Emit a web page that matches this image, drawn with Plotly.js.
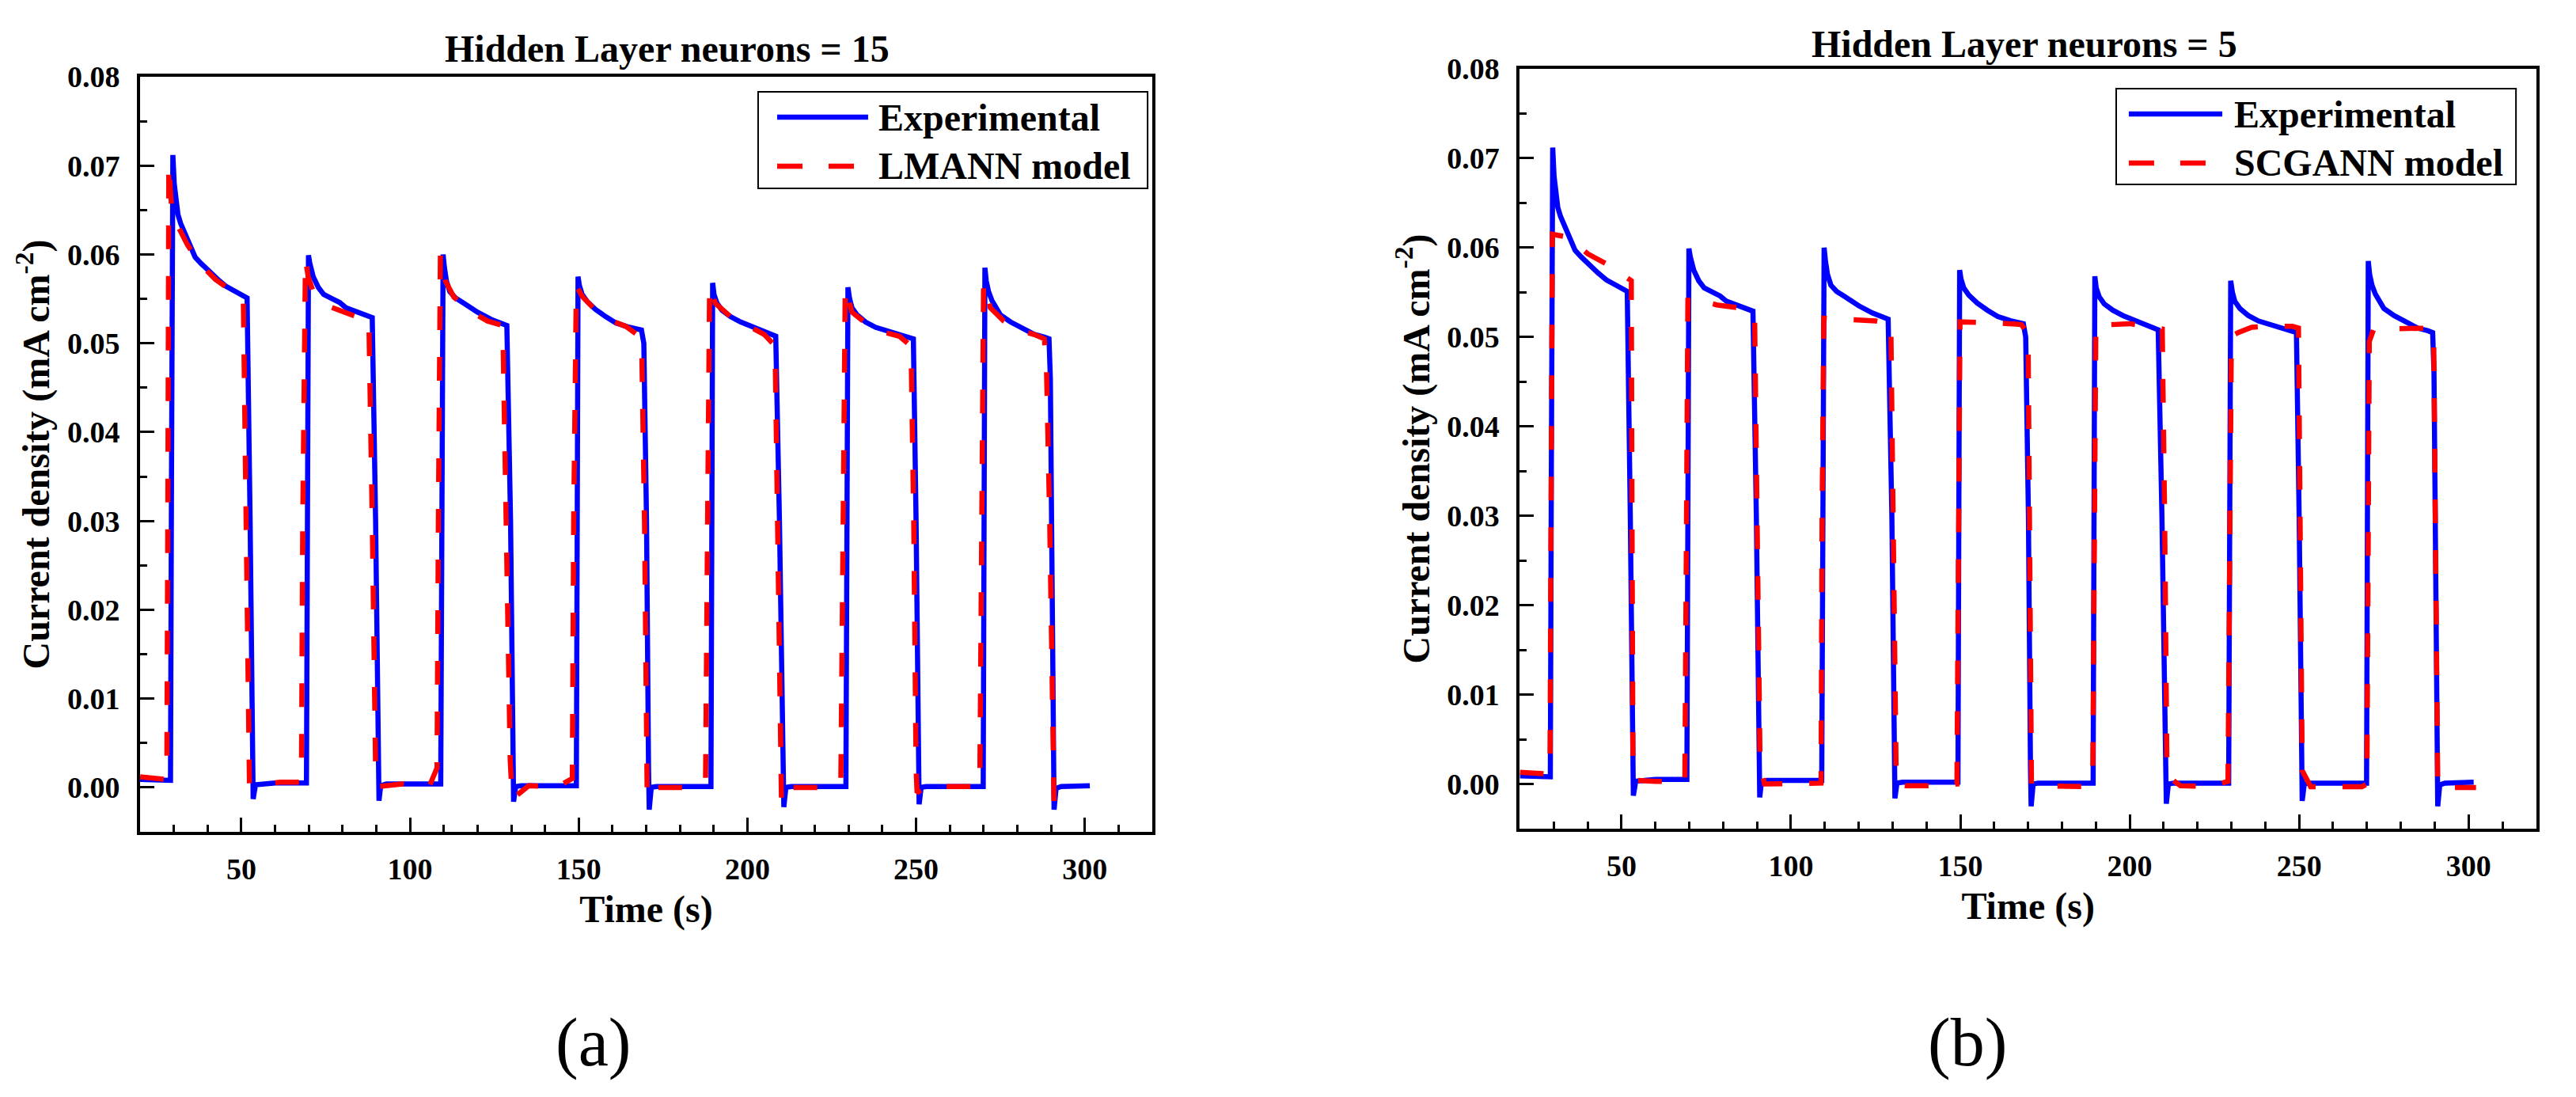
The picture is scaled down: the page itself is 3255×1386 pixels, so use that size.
<!DOCTYPE html>
<html>
<head>
<meta charset="utf-8">
<script src="https://cdn.plot.ly/plotly-3.0.1.min.js"></script>
<style>html,body{margin:0;padding:0;background:#fff}</style>
</head>
<body>
<div id="chart"></div>
<script>
// experimental curve (same measurement in both panels), one row per pulse
const expTime = [
  20, 25, 29.0, 29.3, 29.7, 30.1, 30.6, 31.2, 32.0, 33.0, 34.5, 36.3, 38.0, 40.5, 43.0, 45.5, 48.5, 51.7, 52.6, 53.2, 53.5, 54.2, 60.0, 69.3,
  69.5, 69.9, 70.3, 71.3, 72.8, 74.4, 77.0, 79.1, 81.0, 83.1, 86.0, 88.8, 89.8, 90.5, 90.8, 91.3, 93.0, 109.1,
  109.4, 109.8, 110.2, 110.8, 111.8, 113.5, 116.0, 120.0, 124.0, 128.7, 129.8, 130.5, 130.7, 131.3, 133.0, 149.3,
  149.5, 149.8, 150.2, 151.0, 152.5, 155.0, 158.0, 161.0, 165.0, 168.6, 169.3, 170.1, 170.7, 170.9, 171.5, 173.0, 189.2,
  189.4, 189.7, 190.1, 191.0, 192.5, 195.0, 198.0, 200.0, 203.0, 206.0, 208.4, 209.5, 210.6, 210.8, 211.4, 213.0, 229.2,
  229.4, 229.8, 230.3, 231.0, 232.5, 235.0, 238.0, 242.0, 246.0, 249.2, 250.0, 250.7, 250.9, 251.5, 253.0, 269.9,
  270.1, 270.4, 270.8, 271.5, 272.5, 275.0, 278.0, 281.0, 285.0, 288.0, 289.4, 289.8, 290.4, 290.7, 290.9, 291.5, 293.0, 301.5
]
const expCurrent = [
  0.0009, 0.0008, 0.0008, 0.035, 0.0712, 0.0680, 0.0660, 0.0645, 0.0635, 0.0626, 0.0610, 0.0597, 0.0590, 0.0580, 0.0572, 0.0564, 0.0557, 0.0551, 0.030, 0.002, -0.0013, 0.0003, 0.0005, 0.0005,
  0.030, 0.0599, 0.0590, 0.0575, 0.0563, 0.0555, 0.0550, 0.0546, 0.0540, 0.0537, 0.0532, 0.0529, 0.030, 0.002, -0.0015, 0.0002, 0.0004, 0.0004,
  0.030, 0.0600, 0.0585, 0.0570, 0.0558, 0.0551, 0.0545, 0.0535, 0.0527, 0.0520, 0.030, 0.002, -0.0016, 0.0001, 0.0002, 0.0002,
  0.030, 0.0575, 0.0565, 0.0555, 0.0547, 0.0538, 0.0530, 0.0523, 0.0518, 0.0515, 0.0500, 0.030, 0.002, -0.0025, 0.0000, 0.0001, 0.0001,
  0.030, 0.0568, 0.0555, 0.0545, 0.0537, 0.0530, 0.0524, 0.0521, 0.0516, 0.0512, 0.0508, 0.030, 0.002, -0.0022, 0.0000, 0.0001, 0.0001,
  0.030, 0.0563, 0.0550, 0.0540, 0.0532, 0.0524, 0.0518, 0.0513, 0.0508, 0.0505, 0.030, 0.002, -0.0019, 0.0000, 0.0001, 0.0001,
  0.030, 0.0585, 0.0570, 0.0558, 0.0548, 0.0532, 0.0524, 0.0518, 0.0510, 0.0507, 0.0505, 0.0460, 0.020, 0.002, -0.0025, -0.0001, 0.0001, 0.0002
]

// LMANN model, 15 hidden neurons
const lmTime = [
  20, 26.5, 27.9, 28.2, 28.5, 29.0, 29.5, 30.5, 34.0, 37.6, 42.3, 46.0, 50.0, 50.6, 51.5, 52.4, 54.2, 61.5, 67.8,
  68.2, 69.0, 69.8, 71.3, 76.4, 82.0, 87.8, 88.8, 89.8, 90.8, 97.6, 105.8, 108.0,
  108.4, 109.0, 110.5, 113.0, 118.0, 123.0, 127.5, 128.5, 129.7, 130.3, 135.2, 140.0, 143.3, 148.1,
  148.5, 149.3, 151.0, 155.0, 160.0, 164.0, 168.0, 168.7, 169.5, 170.3, 173.0, 183.6, 187.6,
  188.2, 188.8, 190.5, 195.0, 200.0, 205.0, 208.2, 209.0, 209.8, 210.1, 212.0, 223.6, 227.7,
  228.2, 229.0, 231.0, 236.0, 240.0, 245.0, 248.5, 249.3, 250.0, 250.3, 253.0, 268.5, 268.9,
  269.3, 270.0, 272.0, 276.0, 280.0, 285.0, 288.0, 288.6, 289.6, 290.4, 290.9, 292.1
]
const lmCurrent = [
  0.0012, 0.0009, 0.0009, 0.030, 0.0702, 0.0670, 0.0645, 0.0637, 0.0611, 0.0590, 0.0572, 0.0562, 0.0553, 0.0545, 0.030, 0.0004, 0.0002, 0.0006, 0.0006,
  0.030, 0.0595, 0.0575, 0.0558, 0.0541, 0.0533, 0.0525, 0.030, 0.0020, 0.0001, 0.0004, 0.0002, 0.0022,
  0.030, 0.0600, 0.0570, 0.0552, 0.0536, 0.0525, 0.0520, 0.030, 0.0030, -0.0013, 0.0002, 0.0001, 0.0000, 0.0010,
  0.030, 0.0565, 0.0553, 0.0537, 0.0525, 0.0519, 0.0508, 0.0490, 0.030, -0.0012, 0.0000, 0.0000, 0.0010,
  0.030, 0.0565, 0.0545, 0.0530, 0.0520, 0.0510, 0.0497, 0.030, 0.0030, -0.0017, 0.0000, 0.0000, 0.0010,
  0.030, 0.0563, 0.0535, 0.0520, 0.0513, 0.0508, 0.0497, 0.030, 0.0020, -0.0006, 0.0001, 0.0001, 0.0010,
  0.030, 0.0568, 0.0540, 0.0525, 0.0515, 0.0510, 0.0505, 0.0480, 0.030, 0.0030, -0.0019, 0.0000
]

// SCGANN model, 5 hidden neurons
const scgTime = [
  20, 26.5, 28.9, 29.2, 29.6, 33.9, 37.0, 40.1, 46.4, 52.9, 53.1, 53.4, 54.5, 60.0, 68.7,
  69.0, 69.6, 71.0, 78.1, 84.0, 86.6, 89.3, 90.0, 90.9, 92.2, 100.0, 107.6, 108.9,
  109.2, 109.7, 115.0, 120.0, 125.0, 129.5, 130.3, 131.1, 134.0, 142.0, 149.0,
  149.4, 149.9, 160.0, 168.0, 170.0, 170.5, 171.0, 172.0, 178.0, 187.0, 189.1,
  189.5, 190.0, 200.0, 205.0, 209.6, 210.3, 211.0, 215.0, 223.8, 229.0,
  229.5, 230.0, 232.0, 236.0, 240.0, 248.0, 249.8, 250.4, 250.9, 253.4, 268.5, 270.0,
  270.4, 270.7, 272.0, 280.0, 288.0, 289.7, 290.3, 290.9, 292.0, 296.0, 302.2
]
const scgCurrent = [
  0.0013, 0.0011, 0.0011, 0.030, 0.0615, 0.0612, 0.0603, 0.0593, 0.0580, 0.0563, 0.030, 0.0011, 0.0004, 0.0003, 0.0003,
  0.030, 0.0545, 0.0543, 0.0536, 0.0533, 0.0532, 0.0520, 0.030, 0.0023, 0.0000, 0.0000, 0.0000, 0.0001,
  0.030, 0.0521, 0.0520, 0.0519, 0.0518, 0.0515, 0.030, 0.0000, -0.0002, -0.0002, 0.0000,
  0.030, 0.0517, 0.0516, 0.0514, 0.0503, 0.030, 0.0000, -0.0002, -0.0002, -0.0003, 0.0014,
  0.030, 0.0513, 0.0515, 0.0512, 0.0509, 0.030, 0.0009, -0.0002, -0.0003, 0.0003,
  0.030, 0.0501, 0.0505, 0.0511, 0.0512, 0.0512, 0.0510, 0.030, 0.0015, -0.0003, -0.0003, 0.0000,
  0.030, 0.0495, 0.0509, 0.0510, 0.0510, 0.0505, 0.030, 0.0000, -0.0005, -0.0004, -0.0004
]

const panelTitles = ['Hidden Layer neurons = 15', 'Hidden Layer neurons = 5']
const modelNames = ['LMANN model', 'SCGANN model']
const panelLabels = ['(a)', '(b)']

const FONT = 'Liberation Serif, Times New Roman, serif'
const BLUE = '#0000ff'
const RED = '#ff0000'
const DASH = '30px,34px'

function boldFont(size) {
  return { family: FONT, size: size, color: '#000', weight: 700 }
}

function xAxis(domain, anchor) {
  return {
    domain: domain, anchor: anchor, range: [20, 320],
    tick0: 0, dtick: 50,
    showline: true, mirror: true, linecolor: '#000', linewidth: 4,
    ticks: 'inside', ticklen: 18, tickwidth: 3, tickcolor: '#000',
    minor: { ticks: 'inside', ticklen: 9, tickwidth: 3, tickcolor: '#000', dtick: 10 },
    ticklabelstandoff: 10,
    showgrid: false, zeroline: false, automargin: false,
    tickfont: boldFont(38),
    title: { text: 'Time (s)', font: boldFont(48), standoff: 15 }
  }
}

function yAxis(domain, anchor) {
  return {
    domain: domain, anchor: anchor, range: [-0.005, 0.08],
    tick0: 0, dtick: 0.01, tickformat: '.2f',
    showline: true, mirror: true, linecolor: '#000', linewidth: 4,
    ticks: 'inside', ticklen: 18, tickwidth: 3, tickcolor: '#000',
    minor: { ticks: 'inside', ticklen: 9, tickwidth: 3, tickcolor: '#000', dtick: 0.005 },
    ticklabelstandoff: 14,
    showgrid: false, zeroline: false, automargin: false,
    tickfont: boldFont(38),
    title: { text: 'Current density (mA cm<sup>-2</sup>)', font: boldFont(48), standoff: 8 }
  }
}

const traces = [
  { x: expTime, y: expCurrent, xaxis: 'x', yaxis: 'y', type: 'scatter', mode: 'lines',
    name: 'Experimental', line: { color: BLUE, width: 6.5 }, showlegend: false },
  { x: lmTime, y: lmCurrent, xaxis: 'x', yaxis: 'y', type: 'scatter', mode: 'lines',
    name: modelNames[0], line: { color: RED, width: 6.5, dash: DASH }, showlegend: false },
  { x: expTime, y: expCurrent, xaxis: 'x2', yaxis: 'y2', type: 'scatter', mode: 'lines',
    name: 'Experimental', line: { color: BLUE, width: 6.5 }, showlegend: false },
  { x: scgTime, y: scgCurrent, xaxis: 'x2', yaxis: 'y2', type: 'scatter', mode: 'lines',
    name: modelNames[1], line: { color: RED, width: 6.5, dash: DASH }, showlegend: false }
]

// hand-drawn legend boxes (long sample lines like the original)
const legends = [
  { box: [0.2943, 0.4455, 0.8283, 0.9163], line: [0.3017, 0.3370], red: 0.3317, text: 0.3404, rows: [0.8932, 0.8485] },
  { box: [0.8215, 0.9767, 0.8319, 0.9192], line: [0.8264, 0.8627], red: 0.8570, text: 0.8667, rows: [0.8961, 0.8514] }
]

const shapes = []
const annotations = []
legends.forEach((lg, i) => {
  shapes.push({ type: 'rect', xref: 'paper', yref: 'paper', x0: lg.box[0], x1: lg.box[1], y0: lg.box[2], y1: lg.box[3],
    line: { color: '#000', width: 2 }, fillcolor: 'rgba(0,0,0,0)' })
  shapes.push({ type: 'line', xref: 'paper', yref: 'paper', x0: lg.line[0], x1: lg.line[1], y0: lg.rows[0], y1: lg.rows[0],
    line: { color: BLUE, width: 6.5 } })
  shapes.push({ type: 'line', xref: 'paper', yref: 'paper', x0: lg.line[0], x1: lg.red, y0: lg.rows[1], y1: lg.rows[1],
    line: { color: RED, width: 6.5, dash: '32px,33px' } })
  annotations.push({ xref: 'paper', yref: 'paper', x: lg.text, y: lg.rows[0], xanchor: 'left', yanchor: 'middle',
    text: 'Experimental', showarrow: false, font: boldFont(48) })
  annotations.push({ xref: 'paper', yref: 'paper', x: lg.text, y: lg.rows[1], xanchor: 'left', yanchor: 'middle',
    text: modelNames[i], showarrow: false, font: boldFont(48) })
})

const titlePos = [[0.259, 0.9553], [0.7859, 0.9603]]
const labelPos = [[0.2304, 0.0495], [0.7637, 0.0495]]
panelTitles.forEach((t, i) => {
  annotations.push({ xref: 'paper', yref: 'paper', x: titlePos[i][0], y: titlePos[i][1], xanchor: 'center', yanchor: 'middle',
    text: t, showarrow: false, font: boldFont(48) })
  annotations.push({ xref: 'paper', yref: 'paper', x: labelPos[i][0], y: labelPos[i][1], xanchor: 'center', yanchor: 'middle',
    text: panelLabels[i], showarrow: false, font: { family: FONT, size: 86, color: '#000' } })
})

const layout = {
  width: 3255,
  height: 1386,
  margin: { l: 0, r: 0, t: 0, b: 0 },
  paper_bgcolor: '#fff',
  plot_bgcolor: '#fff',
  showlegend: false,
  xaxis: xAxis([0.0544, 0.4473], 'y'),
  yaxis: yAxis([0.2417, 0.9300], 'x'),
  xaxis2: xAxis([0.5900, 0.9846], 'y2'),
  yaxis2: yAxis([0.2446, 0.9372], 'x2'),
  shapes: shapes,
  annotations: annotations
}

Plotly.newPlot('chart', traces, layout, { staticPlot: true })
</script>
</body>
</html>
